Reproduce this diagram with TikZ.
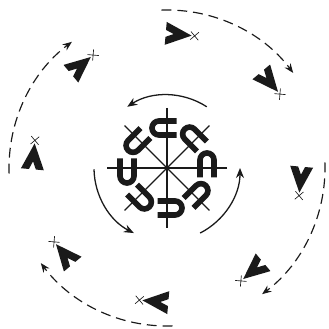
\documentclass[tikz,border=0pt]{standalone}
\usetikzlibrary{arrows.meta,calc}
\definecolor{ink}{HTML}{1A1A1A}
\tikzset{
  spoke/.style={draw=ink, line width=1pt},
  magnet/.style={draw=ink, line width=4.8pt},
  spin/.style={draw=ink, line width=1.1pt, -{Stealth[length=3mm, width=2.4mm]}},
  orbit/.style={draw=ink, line width=1pt, dash pattern=on 8.5pt off 5pt, -{Stealth[length=2.8mm, width=2.2mm]}},
  chevron/.style={fill=ink, draw=none},
  cross/.style={draw=ink, line width=0.55pt}
}

\begin{document}
\begin{tikzpicture}[x=0.03cm, y=0.03cm]
  \useasboundingbox (0,0) rectangle (329,329);
  \coordinate (hub) at (167,161);
  % spokes
  \foreach \a in {0,45,90,135}
    \draw[spoke] ($(hub)+(\a:60)$) -- ($(hub)+(\a+180:60)$);
  % horseshoe magnets on the spokes
  \foreach \a in {0,45,...,315}{
    \begin{scope}[shift={($(hub)+(\a:40)$)}, rotate=\a-90]
      \draw[magnet] (9.5,7) -- (-8,7) arc[start angle=90, end angle=270, radius=7] -- (9.5,-7);
    \end{scope}
  }
  % inner rotation arrows
  \foreach \s/\e in {57/123, 181/243, 297/360}
    \draw[spin] ($(hub)+(\s:73)$) arc[start angle=\s, end angle=\e, radius=73];
  % outer chevrons with crosses
  \foreach \a in {85,40,...,-230}{
    \begin{scope}[shift={($(hub)+(\a:134)$)}, rotate=\a-90]
      \fill[chevron] (13,0) -- (-13,11.5) -- (-13,3.5) -- (-5,0) -- (-13,-3.5) -- (-13,-11.5) -- cycle;
      \draw[cross] (12,-4) -- (20,4) (12,4) -- (20,-4);
    \end{scope}
  }
  % outer dashed arrows
  \foreach \s in {92,2,-88,-178}
    \draw[orbit] ($(hub)+(\s:158)$) arc[start angle=\s, end angle=\s-55, radius=158];
\end{tikzpicture}
\end{document}
